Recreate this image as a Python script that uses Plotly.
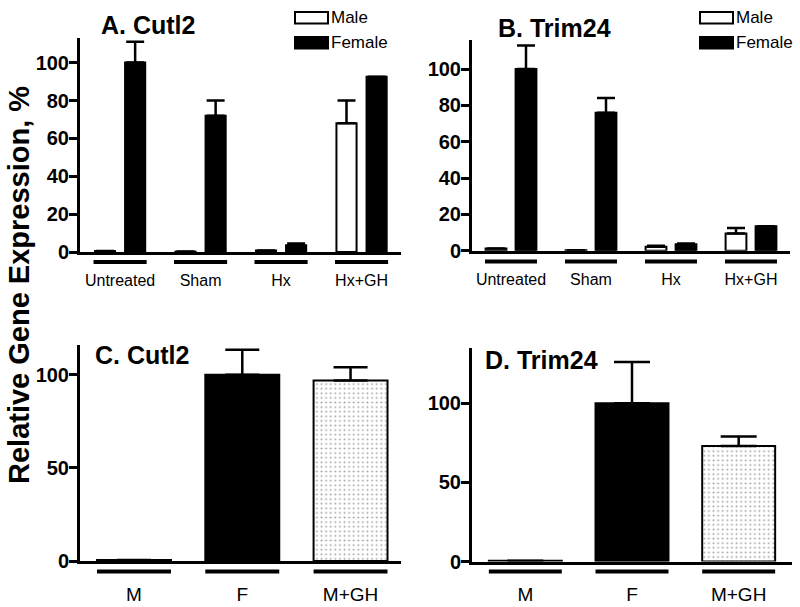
import plotly.graph_objects as go

# ---------------- data ----------------
groups_ab = ["Untreated", "Sham", "Hx", "Hx+GH"]
a_male = [0.5, 0.2, 0.8, 68]
a_male_err = [0, 0, 0, 12]
a_female = [100, 72, 3.5, 92.5]
a_female_err = [11, 8, 1, 0]

b_male = [1.2, 0.3, 2.2, 9.5]
b_male_err = [0, 0, 0.5, 3]
b_female = [100, 76, 3.5, 13.5]
b_female_err = [13, 8, 0.5, 0]

groups_cd = ["M", "F", "M+GH"]
c_vals = [0.5, 100, 97]
c_err = [0, 13.5, 7]
d_vals = [0.5, 100, 73]
d_err = [0, 26, 6]

ticks_ab = [0, 20, 40, 60, 80, 100]
ticks_cd = [0, 50, 100]

W, H = 800, 607
FONT = "Liberation Sans, Arial, Helvetica, sans-serif"


def py(p):
    """pixel y (from top) -> paper y"""
    return (H - p) / H


def px(p):
    return p / W


fig = go.Figure()


def bar(x, y, err, xa, ya, fill, width, offset, cap):
    fig.add_trace(go.Bar(
        x=x, y=y, xaxis=xa, yaxis=ya, width=width, offset=offset,
        marker=dict(color=fill, line=dict(color="black", width=2)), showlegend=False,
        error_y=dict(type="data", array=err, arrayminus=[0] * len(err),
                     symmetric=False, color="black", thickness=2.5, width=cap),
    ))


# Panel A
bar(groups_ab, a_male, a_male_err, "x", "y", "white", 0.25, -0.312, 9)
bar(groups_ab, a_female, a_female_err, "x", "y", "black", 0.25, 0.062, 9)
# Panel B
bar(groups_ab, b_male, b_male_err, "x2", "y2", "white", 0.26, -0.3175, 9)
bar(groups_ab, b_female, b_female_err, "x2", "y2", "black", 0.26, 0.0575, 9)
# Panels C and D
colors_cd = ["white", "black", "white"]
for vals, errs, xa, ya, w, cap in [(c_vals, c_err, "x3", "y3", 0.683, 17),
                                   (d_vals, d_err, "x4", "y4", 0.684, 18)]:
    fig.add_trace(go.Bar(
        x=groups_cd, y=vals, xaxis=xa, yaxis=ya, width=w,
        marker=dict(color=colors_cd, line=dict(color="black", width=2),
                    pattern=dict(shape=["", "", "."], size=4.6, solidity=0.14,
                                 fgcolor="black", fillmode="overlay")),
        showlegend=False,
        error_y=dict(type="data", array=errs, arrayminus=[0] * 3, symmetric=False,
                     color="black", thickness=2.5, width=cap)))


def xaxis(domain, rng, size, standoff_len, anchor):
    return dict(domain=domain, range=rng, showline=True, linewidth=3, linecolor="black",
                ticks="outside", ticklen=standoff_len, tickcolor="rgba(0,0,0,0)",
                tickfont=dict(family=FONT, size=size, color="black"),
                showgrid=False, zeroline=False, fixedrange=True, automargin=False,
                anchor=anchor)


def yaxis(domain, rng, tv, anchor):
    return dict(domain=domain, range=rng, showline=True, linewidth=3, linecolor="black",
                ticks="outside", ticklen=8, tickwidth=3, tickcolor="black",
                ticklabelstandoff=-4,
                tickmode="array", tickvals=tv, ticktext=[f"<b>{v}</b>" for v in tv],
                tickfont=dict(family=FONT, size=20, color="black"), showgrid=False,
                zeroline=False, anchor=anchor, fixedrange=True, automargin=False)


fig.update_layout(
    template="none",
    width=W, height=H, margin=dict(l=0, r=0, t=0, b=0, pad=0),
    paper_bgcolor="white", plot_bgcolor="white", barmode="overlay",
    xaxis=xaxis([px(80), px(401)], [-0.498, 3.49], 16, 12, "y"),
    yaxis=yaxis([py(252), py(38)], [0, 113], ticks_ab, "x"),
    xaxis2=xaxis([px(472), px(790)], [-0.4875, 3.4875], 16, 12, "y2"),
    yaxis2=yaxis([py(250.7), py(40)], [0, 116], ticks_ab, "x2"),
    xaxis3=xaxis([px(80), px(401)], [-0.499, 2.466], 19, 14, "y3"),
    yaxis3=yaxis([py(561), py(345)], [0, 116], ticks_cd, "x3"),
    xaxis4=xaxis([px(472), px(792)], [-0.5, 2.5], 19, 14, "y4"),
    yaxis4=yaxis([py(561.5), py(347.7)], [0, 135], ticks_cd, "x4"),
)

# group underlines
shapes = []
for xa, cats, half, ypix in [("x", groups_ab, 0.33, 262), ("x2", groups_ab, 0.325, 261.5),
                              ("x3", groups_cd, 0.3415, 571.5), ("x4", groups_cd, 0.342, 571.5)]:
    for i, _ in enumerate(cats):
        shapes.append(dict(type="line", xref=xa, yref="paper", x0=i - half, x1=i + half,
                           y0=py(ypix), y1=py(ypix), line=dict(color="black", width=4)))

# legends (panel A and B)
annotations = []
for (bx0, bx1) in [(295, 328), (700, 733)]:
    shapes.append(dict(type="rect", xref="paper", yref="paper", x0=px(bx0), x1=px(bx1),
                       y0=py(23.5), y1=py(12), line=dict(color="black", width=2),
                       fillcolor="white"))
    shapes.append(dict(type="rect", xref="paper", yref="paper", x0=px(bx0), x1=px(bx1),
                       y0=py(48.5), y1=py(37), line=dict(color="black", width=2),
                       fillcolor="black"))
    for lbl, yc in [("Male", 17.5), ("Female", 42.5)]:
        annotations.append(dict(text=lbl, xref="paper", yref="paper", x=px(bx1 + 1), y=py(yc),
                                xanchor="left", yanchor="middle", showarrow=False,
                                font=dict(family=FONT, size=17, color="black")))

# panel titles
for txt, xc, yc in [("A. Cutl2", 147.5, 25), ("B. Trim24", 554.5, 28),
                    ("C. Cutl2", 142, 355), ("D. Trim24", 541, 360)]:
    annotations.append(dict(text=f"<b>{txt}</b>", xref="paper", yref="paper", x=px(xc), y=py(yc),
                            xanchor="center", yanchor="middle", showarrow=False,
                            font=dict(family=FONT, size=25, color="black")))

annotations.append(dict(text="<b>Relative Gene Expression, %</b>", xref="paper", yref="paper",
                        x=px(19), y=py(285), xanchor="center", yanchor="middle",
                        textangle=-90, showarrow=False,
                        font=dict(family=FONT, size=29, color="black")))

fig.update_layout(shapes=shapes, annotations=annotations)
fig.write_html("out.html", config={"displayModeBar": False},
               post_script="document.body.style.margin='0px';document.body.style.overflow='hidden';")
